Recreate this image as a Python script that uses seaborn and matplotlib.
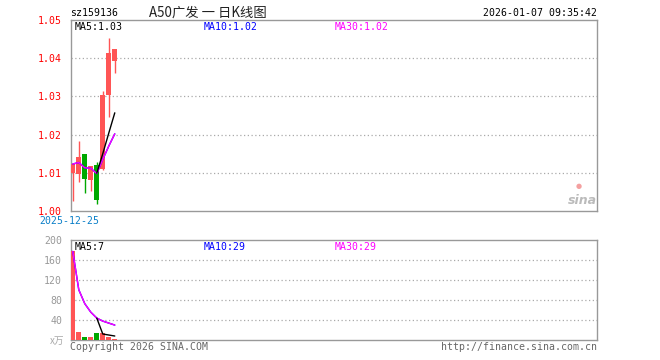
import matplotlib
matplotlib.use("Agg")
import matplotlib.pyplot as plt
import seaborn as sns
import pandas as pd
import numpy as np

# ---- data ----
dates = ["2025-12-25", "2025-12-26", "2025-12-29", "2025-12-30",
         "2025-12-31", "2026-01-05", "2026-01-06", "2026-01-07"]
opens  = [1.0099, 1.0097, 1.0150, 1.0080, 1.0121, 1.0111, 1.0304, 1.0393]
closes = [1.0124, 1.0141, 1.0084, 1.0117, 1.0030, 1.0303, 1.0413, 1.0424]
highs  = [1.0124, 1.0182, 1.0150, 1.0117, 1.0127, 1.0313, 1.0453, 1.0424]
lows   = [1.0027, 1.0076, 1.0048, 1.0052, 1.0018, 1.0108, 1.0247, 1.0362]
ma5_price  = [None, None, None, None, 1.0099, 1.0150, 1.0204, 1.0257]
ma10_price = [1.0123, 1.0127, 1.0113, 1.0112, 1.0098, 1.0135, 1.0170, 1.0202]
ma30_price = [1.0123, 1.0127, 1.0113, 1.0112, 1.0098, 1.0135, 1.0170, 1.0202]
volumes = [177, 15.7, 5.7, 5.7, 13.7, 13.7, 5.7, 1.7]
ma5_vol  = [None, None, None, None, 43, 11, 9, 7]
ma10_vol = [177, 100, 72, 55, 43, 37, 33, 29]
ma30_vol = [177, 100, 72, 55, 43, 37, 33, 29]
price_ticks = [1.00, 1.01, 1.02, 1.03, 1.04, 1.05]
vol_ticks = [40, 80, 120, 160, 200]

RED = "#FF5555"
GREEN = "#00A800"
FRAME = "#999999"
GRID = "#AAAAAA"
MONO = "DejaVu Sans Mono"
FS = 7.1

sns.set_theme(style="white")
plt.rcParams["font.family"] = ["DejaVu Sans Mono", "Noto Sans CJK SC"]

W, H = 660, 360
fig = plt.figure(figsize=(6.6, 3.6), dpi=100)
fig.patch.set_facecolor("white")

def axrect(left, top, right, bottom):
    return [left / W, 1 - bottom / H, (right - left) / W, (bottom - top) / H]

ax = fig.add_axes(axrect(70.5, 20, 597, 211))
axv = fig.add_axes(axrect(70.5, 240, 597, 339.5))

x = np.arange(len(dates))
xmin = -0.38
xmax = xmin + (597 - 70.5) / 6.0
bw = 0.8

df = pd.DataFrame({"x": x, "open": opens, "close": closes, "high": highs,
                   "low": lows, "vol": volumes})
df["up"] = df["close"] >= df["open"]
cols = [RED if u else GREEN for u in df["up"]]

for a in (ax, axv):
    a.set_facecolor("white")
    for s in a.spines.values():
        s.set_color(FRAME)
        s.set_linewidth(1.0)
    a.set_xlim(xmin, xmax)
    a.set_xticks([])
    a.tick_params(length=0, pad=6)

# ---- price panel ----
ax.set_ylim(1.00, 1.05)
for t in price_ticks[1:-1]:
    ax.axhline(t, color=GRID, lw=0.9, ls=(0, (1, 2)), zorder=0, clip_on=False,
               xmax=1.003)
ax.vlines(df["x"], df["low"], df["high"], colors=cols, lw=1.0, zorder=2)
body_b = np.minimum(df["open"], df["close"])
body_h = np.abs(df["close"] - df["open"])
ax.bar(df["x"], body_h, bottom=body_b, width=bw, color=cols, linewidth=0, zorder=3)

pm = pd.DataFrame({"x": x, "ma5": ma5_price, "ma10": ma10_price, "ma30": ma30_price})
sns.lineplot(data=pm, x="x", y="ma10", ax=ax, color="#0000FF", lw=1.0, zorder=4)
sns.lineplot(data=pm, x="x", y="ma30", ax=ax, color="#FF00FF", lw=1.0, zorder=5)
sns.lineplot(data=pm.dropna(), x="x", y="ma5", ax=ax, color="black", lw=1.0, zorder=6)
ax.set_xlabel("")
ax.set_ylabel("")
ax.set_yticks(price_ticks)
ax.set_yticklabels([f"{t:.2f}" for t in price_ticks], color="#FF0000",
                   fontsize=FS, family=MONO)

# ---- volume panel ----
axv.set_ylim(0, 200)
for t in vol_ticks[:-1]:
    axv.axhline(t, color=GRID, lw=0.9, ls=(0, (1, 2)), zorder=0, clip_on=False,
                xmax=1.003)
axv.bar(df["x"], df["vol"], width=bw, color=cols, linewidth=0, zorder=3)
vm = pd.DataFrame({"x": x, "ma5": ma5_vol, "ma10": ma10_vol, "ma30": ma30_vol})
sns.lineplot(data=vm, x="x", y="ma10", ax=axv, color="#0000FF", lw=1.0, zorder=4)
sns.lineplot(data=vm, x="x", y="ma30", ax=axv, color="#FF00FF", lw=1.0, zorder=5)
sns.lineplot(data=vm.dropna(), x="x", y="ma5", ax=axv, color="black", lw=1.0, zorder=6)
axv.set_xlabel("")
axv.set_ylabel("")
axv.set_yticks(vol_ticks)
axv.set_yticklabels([str(t) for t in vol_ticks], color="#999999",
                    fontsize=FS, family=MONO)

# ---- texts ----
def ftext(px, py, s, **kw):
    kw.setdefault("fontsize", FS)
    kw.setdefault("va", "center")
    fig.text(px / W, 1 - py / H, s, **kw)

ftext(70, 12.5, "sz159136", color="black", family=MONO)
ftext(208, 12.5, "A50广发 一 日K线图", color="#222222", ha="center",
      family=["Noto Sans CJK SC", "DejaVu Sans"], fontsize=9.6)
ftext(597, 12.5, "2026-01-07 09:35:42", color="black", ha="right", family=MONO)

ftext(74.5, 26.5, "MA5:1.03", color="black", family=MONO)
ftext(204, 26.5, "MA10:1.02", color="#0000FF", family=MONO)
ftext(334.5, 26.5, "MA30:1.02", color="#FF00FF", family=MONO)

ftext(69, 221.5, dates[0], color="#0A7FC8", ha="center", family=MONO)

ftext(74.5, 246.5, "MA5:7", color="black", family=MONO)
ftext(204, 246.5, "MA10:29", color="#0000FF", family=MONO)
ftext(334.5, 246.5, "MA30:29", color="#FF00FF", family=MONO)

ftext(64, 341, "x万", color="#AAAAAA", ha="right",
      family=["Noto Sans CJK SC", "DejaVu Sans"], fontsize=7)

ftext(70, 346.5, "Copyright 2026 SINA.COM", color="#666666", family=MONO)
ftext(597, 346.5, "http://finance.sina.com.cn", color="#666666", ha="right",
      family=MONO)

# sina watermark
ftext(582, 200, "sina", color="#BBBBBB", ha="center", family="DejaVu Sans",
      fontsize=9, fontweight="bold", style="italic")
ftext(579, 186, "●", color="#F4A0A0", ha="center", family="DejaVu Sans",
      fontsize=5)

fig.savefig("out.png", dpi=100, facecolor="white")
